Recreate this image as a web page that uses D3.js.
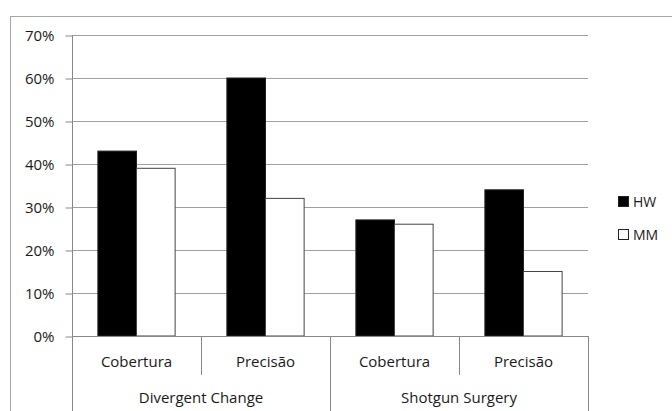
<!DOCTYPE html>
<html>
<head>
<meta charset="utf-8">
<style>
  body { margin: 0; background: #fff; }
  svg text { font-family: "Open Sans", Lato, sans-serif; fill: #1a1a1a; }
</style>
</head>
<body>
<svg class="chart" width="672" height="411"></svg>
<script src="https://cdn.jsdelivr.net/npm/d3@7/dist/d3.min.js"></script>
<script>
    // data
    var groups = ['Divergent Change', 'Shotgun Surgery'],
        metrics = ['Cobertura', 'Precisão'],
        series = ['HW', 'MM'],
        hwValues = [0.43, 0.60, 0.27, 0.34],
        mmValues = [0.39, 0.32, 0.26, 0.15],
        yTicks = [0, 0.1, 0.2, 0.3, 0.4, 0.5, 0.6, 0.7];

    var rows = [];
    groups.forEach(function (g, gi) {
        metrics.forEach(function (m, mi) {
            var i = gi * metrics.length + mi;
            rows.push({key: g + '|' + m, group: g, metric: m, HW: hwValues[i], MM: mmValues[i]});
        });
    });

    // plot area (window.top is reserved, so prefix these)
    var pLeft = 72, pRight = 588, pTop = 35, pBottom = 336,
        fontSize = 15;

    var svg = d3.select('.chart');

    // outer chart border (runs off right/bottom edges)
    svg.append('rect')
        .attr('x', 10.5).attr('y', 16.5)
        .attr('width', 700).attr('height', 420)
        .attr('fill', 'none').attr('stroke', '#a6a6a6');

    var y = d3.scaleLinear().domain([0, 0.7]).range([pBottom, pTop]);

    var x0 = d3.scaleBand()
        .domain(rows.map(function (d) { return d.key; }))
        .range([pLeft, pRight])
        .padding(0);

    var x1 = d3.scaleBand()
        .domain(series)
        .range([0, x0.bandwidth()])
        .paddingInner(0)
        .paddingOuter(0.67);

    // gridlines
    svg.append('g')
        .selectAll('line')
        .data(yTicks.slice(1))
        .enter().append('line')
        .attr('x1', pLeft).attr('x2', pRight)
        .attr('y1', function (d) { return Math.round(y(d)) + 0.5; })
        .attr('y2', function (d) { return Math.round(y(d)) + 0.5; })
        .attr('stroke', '#a0a0a0');

    // y axis
    var yAxis = d3.axisLeft(y)
        .tickValues(yTicks)
        .tickFormat(d3.format('.0%'))
        .tickSize(7)
        .tickPadding(11);

    var yg = svg.append('g')
        .attr('transform', 'translate(' + (pLeft + 0.5) + ',0.5)')
        .call(yAxis);
    yg.select('.domain').remove();
    yg.selectAll('.tick line').attr('stroke', '#888');
    yg.selectAll('.tick text')
        .attr('font-size', fontSize)
        .attr('fill', '#1a1a1a')
        .attr('font-family', '"Open Sans", sans-serif');
    yg.append('line')
        .attr('x1', 0).attr('x2', 0).attr('y1', pTop - 0.5).attr('y2', 411)
        .attr('stroke', '#888');

    // bars
    var cat = svg.append('g').selectAll('g')
        .data(rows)
        .enter().append('g')
        .attr('transform', function (d) { return 'translate(' + x0(d.key) + ',0)'; });

    cat.selectAll('rect')
        .data(function (d) { return series.map(function (s) { return {s: s, v: d[s]}; }); })
        .enter().append('rect')
        .attr('x', function (d) { return x1(d.s); })
        .attr('y', function (d) { return y(d.v); })
        .attr('width', x1.bandwidth())
        .attr('height', function (d) { return pBottom - y(d.v); })
        .attr('fill', function (d) { return d.s === 'HW' ? '#000' : '#fff'; })
        .attr('stroke', function (d) { return d.s === 'HW' ? '#222' : '#444'; })
        .attr('stroke-width', 1);

    // x axis baseline
    svg.append('line')
        .attr('x1', pLeft).attr('x2', pRight)
        .attr('y1', pBottom + 0.5).attr('y2', pBottom + 0.5)
        .attr('stroke', '#888');

    // category dividers + labels
    var xg = svg.append('g');
    rows.forEach(function (d, i) {
        var bx = x0(d.key);
        var isGroupEdge = i % metrics.length === 0;
        if (i > 0) {
            xg.append('line')
                .attr('x1', Math.round(bx) + 0.5).attr('x2', Math.round(bx) + 0.5)
                .attr('y1', pBottom).attr('y2', isGroupEdge ? 411 : 375)
                .attr('stroke', '#888');
        }
        xg.append('text')
            .attr('x', bx + x0.bandwidth() / 2)
            .attr('y', 367)
            .attr('text-anchor', 'middle')
            .attr('font-size', fontSize)
            .text(d.metric);
    });
    svg.append('line')
        .attr('x1', pRight + 0.5).attr('x2', pRight + 0.5)
        .attr('y1', pBottom).attr('y2', 411)
        .attr('stroke', '#888');

    groups.forEach(function (g) {
        var keys = rows.filter(function (d) { return d.group === g; });
        var gx0 = x0(keys[0].key), gx1 = x0(keys[keys.length - 1].key) + x0.bandwidth();
        xg.append('text')
            .attr('x', (gx0 + gx1) / 2)
            .attr('y', 403)
            .attr('text-anchor', 'middle')
            .attr('font-size', fontSize)
            .text(g);
    });

    // legend
    var legend = svg.append('g').selectAll('g')
        .data(series)
        .enter().append('g')
        .attr('transform', function (d, i) { return 'translate(618,' + (196 + i * 33) + ')'; });

    legend.append('rect')
        .attr('x', 0.5).attr('y', 0.5)
        .attr('width', 10).attr('height', 10)
        .attr('fill', function (d) { return d === 'HW' ? '#000' : '#fff'; })
        .attr('stroke', '#222');

    legend.append('text')
        .attr('x', 15).attr('y', 10.5)
        .attr('font-size', 14)
        .attr('font-family', '"Liberation Sans", Arial, sans-serif')
        .text(function (d) { return d; });
</script>
</body>
</html>
